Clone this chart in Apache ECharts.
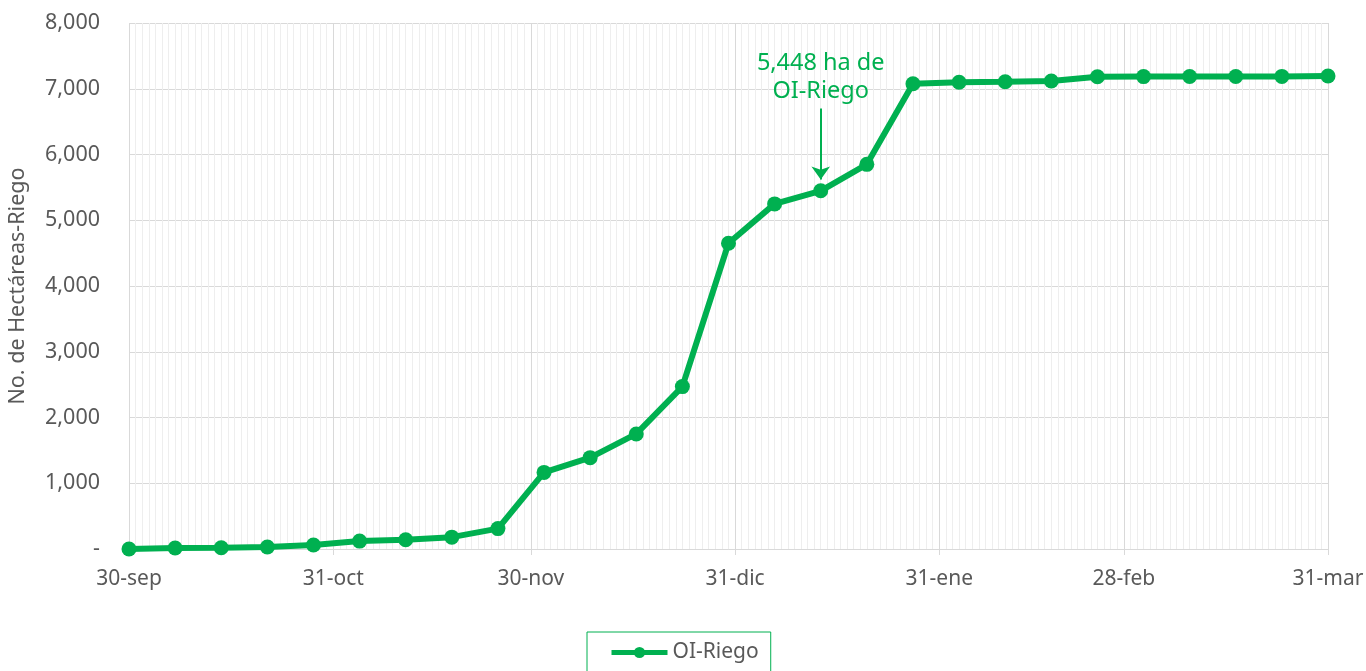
<!DOCTYPE html>
<html>
<head>
<meta charset="utf-8">
<script src="https://cdn.jsdelivr.net/npm/echarts@6/dist/echarts.min.js"></script>
<style>
  html, body { margin: 0; padding: 0; background: #fff; }
  #chart { width: 1366px; height: 671px; }
</style>
</head>
<body>
<div id="chart"></div>
<script>
// fechas semanales de corte
const fechas = [
  '2020-09-30', '2020-10-07', '2020-10-14', '2020-10-21', '2020-10-28',
  '2020-11-04', '2020-11-11', '2020-11-18', '2020-11-25', '2020-12-02',
  '2020-12-09', '2020-12-16', '2020-12-23', '2020-12-30', '2021-01-06',
  '2021-01-13', '2021-01-20', '2021-01-27', '2021-02-03', '2021-02-10',
  '2021-02-17', '2021-02-24', '2021-03-03', '2021-03-10', '2021-03-17',
  '2021-03-24', '2021-03-31'
];
// hectáreas acumuladas OI-Riego
const oiRiego = [
  0, 15, 20, 30, 60, 120, 140, 180, 310, 1165,
  1389, 1750, 2470, 4650, 5249, 5448, 5850, 7075, 7098, 7107,
  7118, 7183, 7185, 7186, 7186, 7188, 7195
];
// etiquetas del eje x (fin de mes)
const finesMes = ['2020-09-30', '2020-10-31', '2020-11-30', '2020-12-31', '2021-01-31', '2021-02-28', '2021-03-31'];
const etiquetasX = ['30-sep', '31-oct', '30-nov', '31-dic', '31-ene', '28-feb', '31-mar'];
// nota
const notaFecha = '2021-01-13';
const notaValor = 5448;
const notaTexto = '5,448 ha de\nOI-Riego';

const verde = '#00B050';
const gris = '#595959';
const DIA = 24 * 3600 * 1000;

// fechas como milisegundos UTC (múltiplos exactos de un día)
const ms = s => Date.parse(s);
const tFines = finesMes.map(ms);
const xMin = tFines[0];
const xMax = tFines[tFines.length - 1];

const myChart = echarts.init(document.getElementById('chart'));

const option = {
  animation: false,
  textStyle: { fontFamily: 'Noto Sans' },
  grid: { left: 129, right: 38, top: 23, bottom: 122, outerBoundsMode: 'none' },
  legend: {
    left: 587,
    top: 632,
    padding: [10, 12, 12, 22],
    borderColor: verde,
    borderWidth: 1,
    itemWidth: 56,
    itemHeight: 14,
    lineStyle: { width: 5 },
    textStyle: { color: gris, fontSize: 21, fontFamily: 'Noto Sans' },
    data: ['OI-Riego']
  },
  xAxis: [
    {
      type: 'value',
      min: xMin,
      max: xMax,
      axisLine: { lineStyle: { color: '#D9D9D9' } },
      axisTick: { show: true, length: 6, lineStyle: { color: '#D9D9D9' }, customValues: tFines },
      axisLabel: {
        customValues: tFines,
        color: gris,
        fontSize: 21,
        margin: 20,
        formatter: function (value) {
          const i = tFines.indexOf(value);
          return i >= 0 ? etiquetasX[i] : '';
        }
      },
      splitLine: { show: true, lineStyle: { color: '#D9D9D9' } },
      z: 2
    },
    {
      // cuadrícula diaria
      type: 'value',
      min: xMin,
      max: xMax,
      interval: DIA,
      axisLine: { show: false },
      axisTick: { show: false },
      axisLabel: { show: false },
      splitLine: { show: true, lineStyle: { color: '#EEEEEE' } },
      z: 1
    }
  ],
  yAxis: {
    type: 'value',
    min: 0,
    max: 8000,
    interval: 1000,
    name: 'No. de Hectáreas-Riego',
    nameLocation: 'middle',
    nameRotate: 90,
    nameGap: 100,
    nameMoveOverlap: false,
    nameTextStyle: { color: gris, fontSize: 21.5 },
    axisLine: { show: false },
    axisTick: { show: false },
    axisLabel: {
      color: gris,
      fontSize: 21.5,
      margin: 29,
      formatter: function (v) {
        return v === 0 ? '-' : v.toLocaleString('en-US');
      }
    },
    splitLine: { lineStyle: { color: '#D9D9D9' } }
  },
  series: [
    {
      name: 'OI-Riego',
      type: 'line',
      xAxisIndex: 0,
      data: fechas.map((f, i) => [ms(f), oiRiego[i]]),
      symbol: 'circle',
      symbolSize: 15,
      color: verde,
      lineStyle: { width: 6, color: verde },
      itemStyle: { color: verde },
      z: 5,
      markLine: {
        silent: true,
        symbol: ['none', 'arrow'],
        symbolSize: [14, 13],
        lineStyle: { color: verde, width: 2, type: 'solid' },
        label: {
          show: true,
          position: 'start',
          distance: 3,
          formatter: notaTexto,
          color: verde,
          fontSize: 23.5,
          lineHeight: 28,
          align: 'center'
        },
        data: [
          [
            { coord: [ms(notaFecha), notaValor + 1250] },
            { coord: [ms(notaFecha), notaValor + 170] }
          ]
        ]
      }
    }
  ]
};

myChart.setOption(option);
</script>
</body>
</html>
